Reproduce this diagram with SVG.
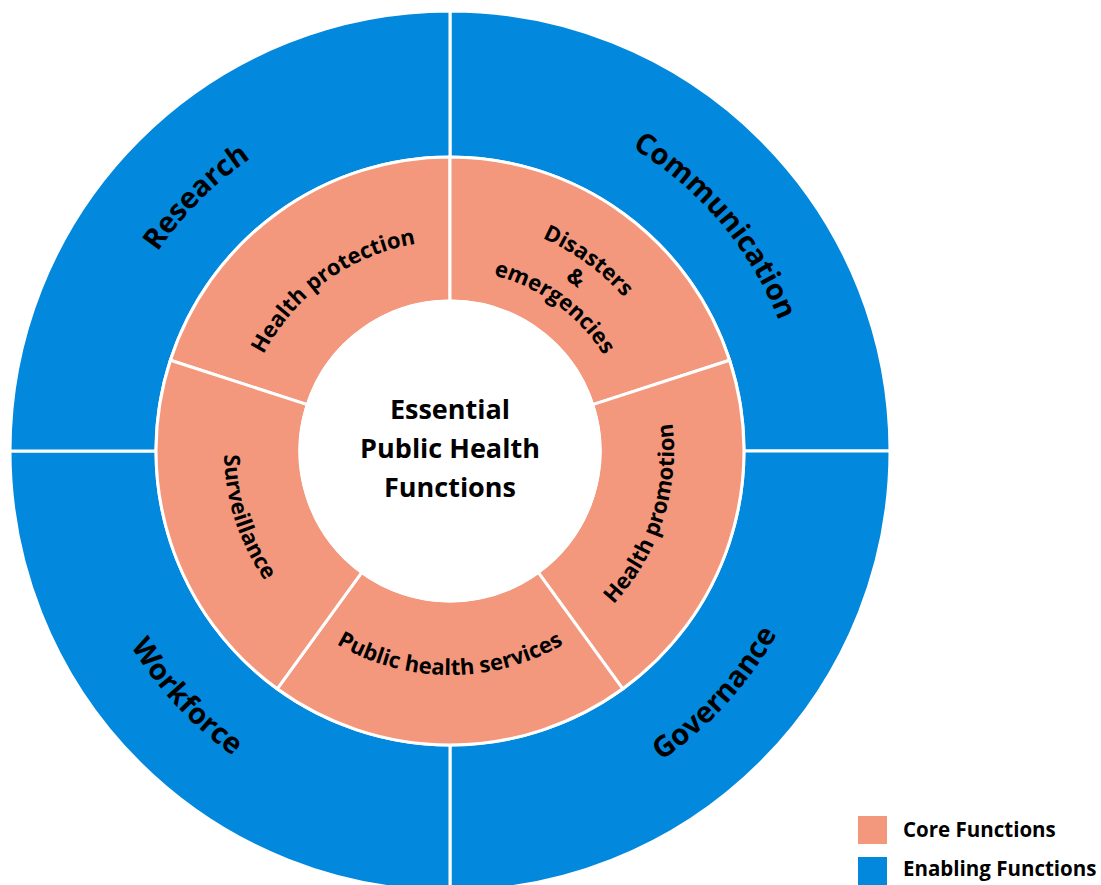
<svg xmlns="http://www.w3.org/2000/svg" width="1101" height="885" viewBox="0 0 1101 885">
<style>
.en{fill:#0288DD;stroke:#fff;stroke-width:3}
.co{fill:#F3987D;stroke:#fff;stroke-width:3}
text{font-family:"Open Sans","Liberation Sans",sans-serif;font-weight:700;fill:#000}
.ol{font-size:29px}
.il{font-size:22px}
.ct{font-size:27px}
.lg{font-size:20.5px}
</style>
<defs>
<path id="pHP" d="M241.2,472.9 A210,210 0 0 1 535.4,259.2"/>
<path id="pD1" d="M355.6,239.1 A232,232 0 0 1 680.7,475.2"/>
<path id="pD2" d="M365.8,261.9 A207,207 0 0 1 655.9,472.6"/>
<path id="pD3" d="M376.4,285.7 A181,181 0 0 1 630.0,469.9"/>
<path id="pPS" d="M256,563 A224,224 0 0 0 644,563"/>
<path id="pPr" d="M496.6,670.1 A224,224 0 0 0 616.5,301.1"/>
<path id="pSu" d="M282.1,299.8 A226,226 0 0 0 403.0,672.1"/>
<path id="pRe" d="M108.1,542.6 A354,354 0 0 1 541.6,109.1"/>
<path id="pCo" d="M384.5,103.2 A354,354 0 0 1 782.4,572.1"/>
<path id="pGo" d="M353.4,812.9 A374,374 0 0 0 801.4,322.4"/>
<path id="pWo" d="M92.3,341.6 A374,374 0 0 0 534.1,815.4"/>
</defs>
<rect width="1101" height="885" fill="#fff"/>
<g id="communication">
<path class="en" d="M450,11 A440,440 0 0 1 890,451 L744,451 A294,294 0 0 0 450,157 Z"/>
<text class="ol"><textPath href="#pCo" startOffset="50%" text-anchor="middle">Communication</textPath></text>
</g>
<g id="governance">
<path class="en" d="M890,451 A440,440 0 0 1 450,891 L450,745 A294,294 0 0 0 744,451 Z"/>
<text class="ol"><textPath href="#pGo" startOffset="50%" text-anchor="middle">Governance</textPath></text>
</g>
<g id="workforce">
<path class="en" d="M450,891 A440,440 0 0 1 10,451 L156,451 A294,294 0 0 0 450,745 Z"/>
<text class="ol"><textPath href="#pWo" startOffset="50%" text-anchor="middle">Workforce</textPath></text>
</g>
<g id="research">
<path class="en" d="M10,451 A440,440 0 0 1 450,11 L450,157 A294,294 0 0 0 156,451 Z"/>
<text class="ol"><textPath href="#pRe" startOffset="50%" text-anchor="middle">Research</textPath></text>
</g>
<g id="health-protection">
<path class="co" d="M170.4,360.2 A294,294 0 0 1 450,157 L450,301 A150,150 0 0 0 307.3,404.6 Z"/>
<text class="il"><textPath href="#pHP" startOffset="50%" text-anchor="middle">Health protection</textPath></text>
</g>
<g id="disasters">
<path class="co" d="M450,157 A294,294 0 0 1 729.6,360.2 L592.7,404.6 A150,150 0 0 0 450,301 Z"/>
<text class="il"><textPath href="#pD1" startOffset="50%" text-anchor="middle">Disasters</textPath></text>
<text class="il"><textPath href="#pD2" startOffset="50%" text-anchor="middle">&amp;</textPath></text>
<text class="il"><textPath href="#pD3" startOffset="50%" text-anchor="middle">emergencies</textPath></text>
</g>
<g id="health-promotion">
<path class="co" d="M729.6,360.2 A294,294 0 0 1 622.8,688.8 L538.2,572.4 A150,150 0 0 0 592.7,404.6 Z"/>
<text class="il"><textPath href="#pPr" startOffset="50%" text-anchor="middle">Health promotion</textPath></text>
</g>
<g id="public-health-services">
<path class="co" d="M622.8,688.8 A294,294 0 0 1 277.2,688.8 L361.8,572.4 A150,150 0 0 0 538.2,572.4 Z"/>
<text class="il"><textPath href="#pPS" startOffset="50%" text-anchor="middle">Public health services</textPath></text>
</g>
<g id="surveillance">
<path class="co" d="M277.2,688.8 A294,294 0 0 1 170.4,360.2 L307.3,404.6 A150,150 0 0 0 361.8,572.4 Z"/>
<text class="il"><textPath href="#pSu" startOffset="50%" text-anchor="middle">Surveillance</textPath></text>
</g>
<g id="center">
<circle cx="450" cy="451" r="150" fill="#fff" stroke="#fff" stroke-width="3"/>
<text class="ct" text-anchor="middle" x="450" y="419">Essential</text>
<text class="ct" text-anchor="middle" x="450" y="458">Public Health</text>
<text class="ct" text-anchor="middle" x="450" y="497">Functions</text>
</g>
<g id="connectors"></g>
<g id="legend">
<rect x="858" y="816" width="29" height="28" fill="#F3987D"/>
<text class="lg" x="903" y="837">Core Functions</text>
<rect x="858" y="857" width="29" height="28" fill="#0288DD"/>
<text class="lg" x="903" y="876">Enabling Functions</text>
</g>
</svg>
